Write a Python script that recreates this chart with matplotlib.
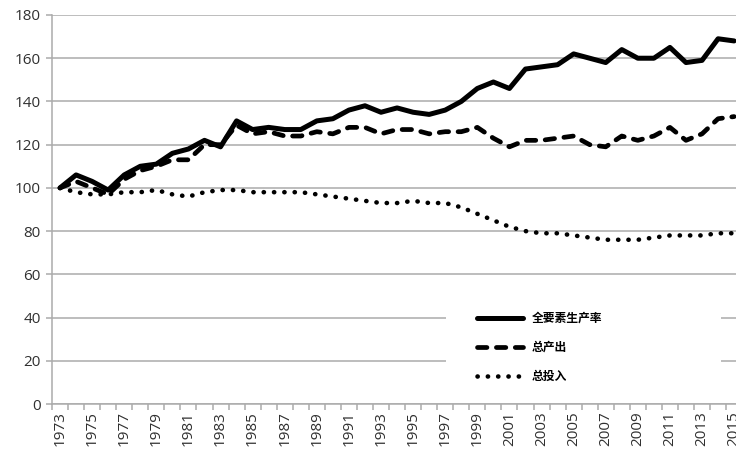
import matplotlib
matplotlib.use("Agg")
import matplotlib.pyplot as plt
from matplotlib.patches import Rectangle
import numpy as np

years = list(range(1973, 2016))
tfp = [100, 106, 103, 99, 106, 110, 111, 116, 118, 122, 119, 131, 127, 128, 127, 127,
       131, 132, 136, 138, 135, 137, 135, 134, 136, 140, 146, 149, 146, 155, 156, 157,
       162, 160, 158, 164, 160, 160, 165, 158, 159, 169, 168]
output = [100, 103, 100, 97, 104, 108, 110, 113, 113, 120, 120, 129, 125, 126, 124, 124,
          126, 125, 128, 128, 125, 127, 127, 125, 126, 126, 128, 123, 119, 122, 122, 123,
          124, 120, 119, 124, 122, 124, 128, 122, 125, 132, 133]
inputs = [100, 98, 97, 97, 98, 98, 99, 97, 96, 98, 99, 99, 98, 98, 98, 98,
          97, 96, 95, 94, 93, 93, 94, 93, 93, 91, 88, 85, 82, 80, 79, 79,
          78, 77, 76, 76, 76, 77, 78, 78, 78, 79, 79]
labels = ["全要素生产率", "总产出", "总投入"]
yticks = list(range(0, 181, 20))

W, H = 736, 450
fig = plt.figure(figsize=(W / 100, H / 100), dpi=100)
ax_left, ax_bottom, ax_top = 52, 404, 15
ax_w = 16.05 * len(years)
ax = fig.add_axes([ax_left / W, (H - ax_bottom) / H, ax_w / W, (ax_bottom - ax_top) / H])

x = np.arange(len(years))
grid_c = "#ababab"
ax.set_axisbelow(True)
ax.yaxis.grid(True, color=grid_c, linewidth=1.1)

ax.plot(x, tfp, color="black", lw=3.6, solid_joinstyle="round", solid_capstyle="round",
        label=labels[0], zorder=3)
ax.plot(x, output, color="black", lw=3.4, linestyle=(0, (2.0, 2.0)),
        dash_capstyle="round", dash_joinstyle="round", label=labels[1], zorder=3)
ax.plot(x, inputs, color="black", lw=3.3, linestyle=(0, (0.05, 2.2)),
        dash_capstyle="round", label=labels[2], zorder=3)

ax.set_xlim(-0.5, len(years) - 0.5)
ax.set_ylim(0, 180)
ax.set_yticks(yticks)

ax.set_xticks(np.arange(-0.5, len(years), 1.0))
ax.set_xticklabels([])
ax.set_xticks(x[::2], minor=True)
ax.set_xticklabels([str(y) for y in years[::2]], minor=True, rotation=90)
ax.tick_params(axis="x", which="major", length=4, color=grid_c, width=1.1, direction="out")
ax.tick_params(axis="x", which="minor", length=0, pad=5)
ax.tick_params(axis="y", length=4, color=grid_c, width=1.1, pad=4)

tick_family = ["Open Sans", "DejaVu Sans"]
for lab in ax.get_xticklabels(minor=True) + ax.get_yticklabels():
    lab.set_fontfamily(tick_family)
    lab.set_fontsize(11)
    lab.set_color("#303030")

for s in ["top", "right"]:
    ax.spines[s].set_visible(False)
for s in ["left", "bottom"]:
    ax.spines[s].set_color(grid_c)
    ax.spines[s].set_linewidth(1.1)

# white legend background box (covers gridlines)
bx0, bx1, by0, by1 = 446, 721, 290, 396
fig.patches.append(Rectangle((bx0 / W, (H - by1) / H), (bx1 - bx0) / W, (by1 - by0) / H,
                             transform=fig.transFigure, facecolor="white",
                             edgecolor="none", zorder=1))
ax.set_zorder(0)
ax.patch.set_alpha(0)

leg = fig.legend(loc="upper left", bbox_to_anchor=(477 / W, (H - 312) / H),
                 frameon=False, borderpad=0, borderaxespad=0, handlelength=3.9,
                 handletextpad=0.75, labelspacing=1.35,
                 prop=dict(family=["Noto Sans CJK SC", "DejaVu Sans"], size=8.5, weight="bold"))

fig.savefig("out.png", dpi=100)
